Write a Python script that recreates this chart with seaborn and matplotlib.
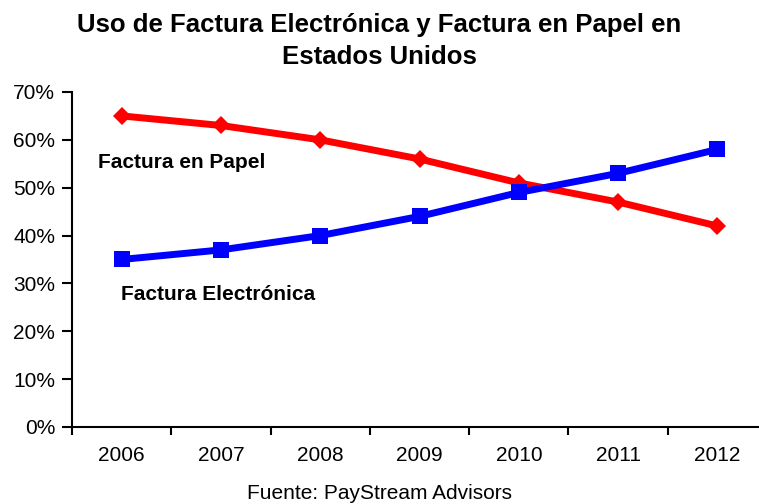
import pandas as pd
import matplotlib.pyplot as plt
import seaborn as sns

# Datos (porcentaje de uso)
anios = ['2006', '2007', '2008', '2009', '2010', '2011', '2012']
papel = [65, 63, 60, 56, 51, 47, 42]
electronica = [35, 37, 40, 44, 49, 53, 58]

df = pd.DataFrame({
    'x': list(range(len(anios))) * 2,
    'valor': papel + electronica,
    'serie': ['Factura en Papel'] * len(anios) + ['Factura Electrónica'] * len(anios),
})

sns.set_style('white')
plt.rcParams['font.family'] = ['Liberation Sans', 'DejaVu Sans']
plt.rcParams['text.color'] = 'black'
plt.rcParams['xtick.color'] = 'black'
plt.rcParams['ytick.color'] = 'black'

fig = plt.figure(figsize=(7.59, 5.04), dpi=100)
ax = fig.add_axes([0.0949, 0.1528, 0.9157, 0.6647])

sns.lineplot(data=df, x='x', y='valor', hue='serie', style='serie',
             markers={'Factura en Papel': 'D', 'Factura Electrónica': 's'},
             dashes=False,
             palette={'Factura en Papel': '#ff0000', 'Factura Electrónica': '#0000ff'},
             linewidth=5, ax=ax, legend=False)
for line in ax.lines:
    if line.get_marker() == 's':
        line.set_markersize(11)
    else:
        line.set_markersize(9)
    line.set_markeredgewidth(0)

ax.set_xlim(-0.5, len(anios) - 0.5)
ax.set_ylim(0, 70)
ax.set_yticks(range(0, 71, 10))
ax.set_yticklabels([f'{v}%' for v in range(0, 71, 10)], fontsize=15)
ax.set_xticks([i - 0.5 for i in range(len(anios) + 1)])
ax.set_xticklabels([])
ax.set_xticks(range(len(anios)), minor=True)
ax.set_xticklabels(anios, minor=True, fontsize=15)
ax.tick_params(axis='x', which='major', bottom=True, direction='out', length=6, width=1.5, color='black')
ax.tick_params(axis='x', which='minor', bottom=True, length=0, pad=14)
ax.tick_params(axis='y', left=True, direction='out', length=7, width=1.5, color='black', pad=5)
ax.set_xlabel('')
ax.set_ylabel('')

for side in ['top', 'right']:
    ax.spines[side].set_visible(False)
for side in ['left', 'bottom']:
    ax.spines[side].set_color('black')
    ax.spines[side].set_linewidth(1.5)

ax.text(-0.24, 55.2, 'Factura en Papel', fontsize=15, fontweight='bold', va='center', ha='left')
ax.text(-0.01, 27.6, 'Factura Electrónica', fontsize=15, fontweight='bold', va='center', ha='left')

fig.text(0.5, 0.918, 'Uso de Factura Electrónica y Factura en Papel en\nEstados Unidos',
         ha='center', va='center', fontsize=18.5, fontweight='bold', linespacing=1.42)
fig.text(0.5, 0.02, 'Fuente: PayStream Advisors', ha='center', va='center', fontsize=15)

fig.savefig('out.png', dpi=100)
